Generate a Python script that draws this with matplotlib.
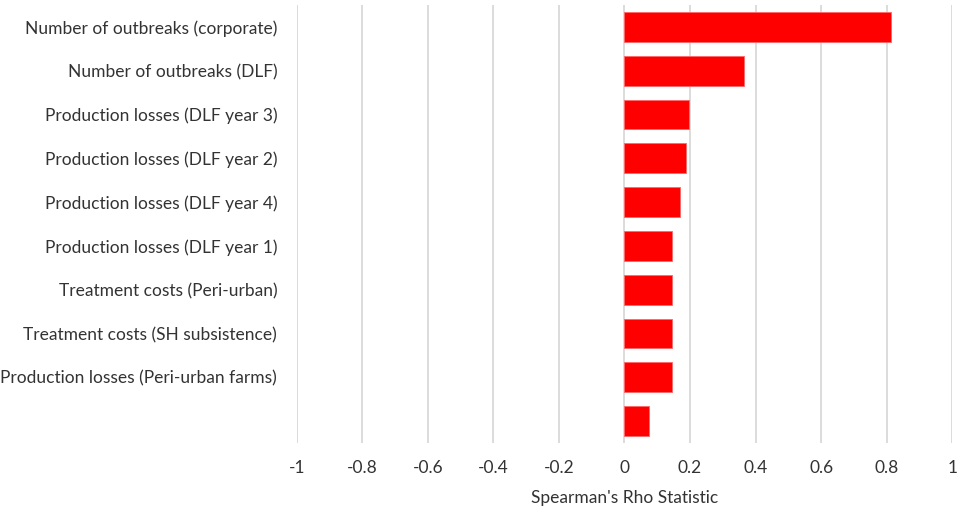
import numpy as np
import matplotlib.pyplot as plt

plt.rcParams['font.family'] = ['Lato', 'DejaVu Sans']

labels = ["Number of outbreaks (corporate)",
          "Number of outbreaks (DLF)",
          "Production losses (DLF year 3)",
          "Production losses (DLF year 2)",
          "Production losses (DLF year 4)",
          "Production losses (DLF year 1)",
          "Treatment costs (Peri-urban)",
          "Treatment costs (SH subsistence)",
          "Production losses (Peri-urban farms)",
          ""]
rho = [0.813, 0.364, 0.198, 0.189, 0.169, 0.146, 0.146, 0.146, 0.146, 0.074]
xticks = [-1, -0.8, -0.6, -0.4, -0.2, 0, 0.2, 0.4, 0.6, 0.8, 1]
xticklabels = ["-1", "-0.8", "-0.6", "-0.4", "-0.2", "0", "0.2", "0.4", "0.6", "0.8", "1"]

fig = plt.figure(figsize=(9.57, 5.11), dpi=100)
ax = fig.add_axes([0.310, 0.133, 0.685, 0.857])

y = np.arange(len(labels))
ax.barh(y, rho, height=0.68, color="#ff0000", edgecolor="#ff6666", linewidth=0.6, zorder=3)
ax.set_ylim(len(labels) - 0.5, -0.5)
ax.set_xlim(-1, 1)
ax.set_xticks(xticks)
ax.set_xticklabels(xticklabels)
ax.set_yticks(y)
ax.set_yticklabels(labels)
ax.grid(axis="x", color="#d9d9d9", linewidth=1.3, zorder=0)
for s in ax.spines.values():
    s.set_visible(False)
ax.tick_params(axis="both", length=0, labelsize=12.5, colors="#333333")
ax.tick_params(axis="x", pad=12)
ax.tick_params(axis="y", pad=14)
ax.set_xlabel("Spearman's Rho Statistic", fontsize=12.5, color="#333333", labelpad=10)

plt.savefig("out.png", dpi=100)
